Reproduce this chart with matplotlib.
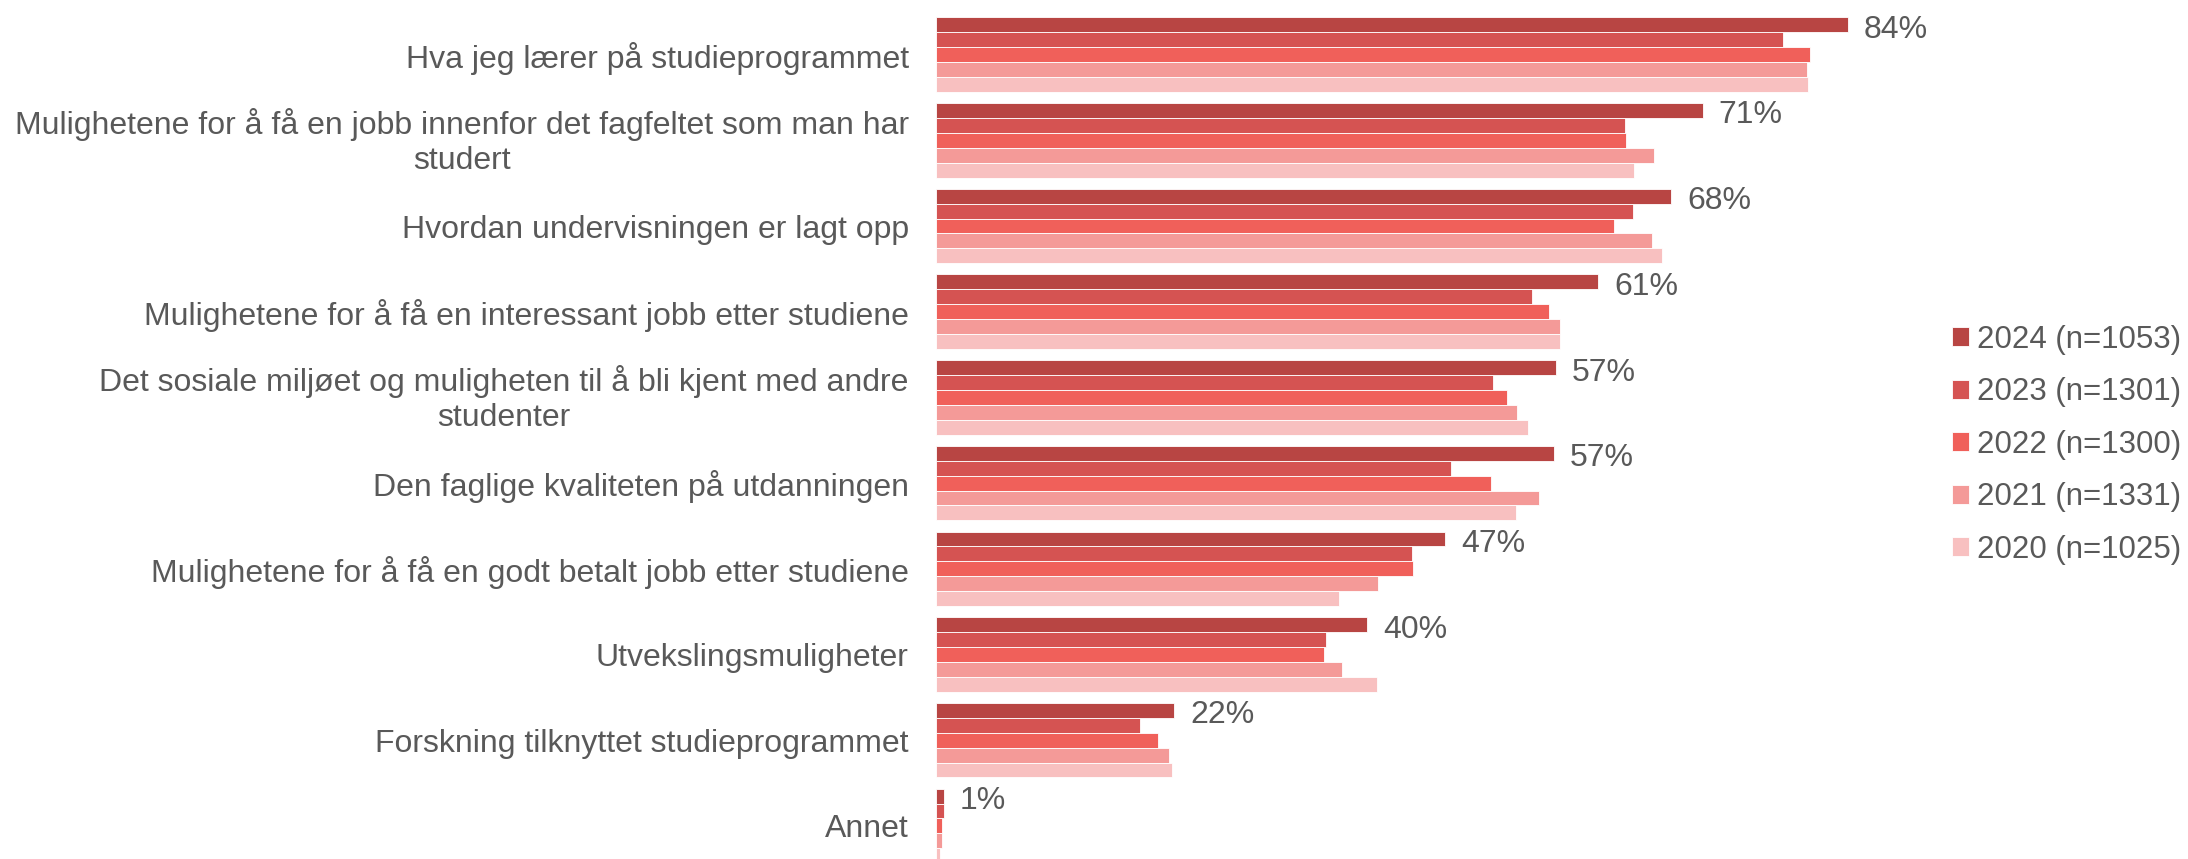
import matplotlib.pyplot as plt
import matplotlib.transforms as mtransforms
import numpy as np

plt.rcParams['font.family'] = ['Liberation Sans', 'DejaVu Sans']

# Categories (top to bottom)
categories = [
    'Hva jeg lærer på studieprogrammet',
    'Mulighetene for å få en jobb innenfor det fagfeltet som man har\nstudert',
    'Hvordan undervisningen er lagt opp',
    'Mulighetene for å få en interessant jobb etter studiene',
    'Det sosiale miljøet og muligheten til å bli kjent med andre\nstudenter',
    'Den faglige kvaliteten på utdanningen',
    'Mulighetene for å få en godt betalt jobb etter studiene',
    'Utvekslingsmuligheter',
    'Forskning tilknyttet studieprogrammet',
    'Annet',
]

series_labels = ['2024 (n=1053)', '2023 (n=1301)', '2022 (n=1300)', '2021 (n=1331)', '2020 (n=1025)']

# Values in percent
v2024 = [84.0, 70.6, 67.7, 61.0, 57.1, 56.9, 46.9, 39.7, 21.9, 0.7]
v2023 = [78.0, 63.4, 64.2, 54.9, 51.3, 47.4, 43.8, 35.9, 18.8, 0.7]
v2022 = [80.5, 63.5, 62.4, 56.4, 52.6, 51.1, 43.9, 35.7, 20.4, 0.5]
v2021 = [80.2, 66.1, 65.9, 57.5, 53.5, 55.5, 40.7, 37.4, 21.4, 0.5]
v2020 = [80.3, 64.3, 66.9, 57.5, 54.5, 53.4, 37.1, 40.6, 21.7, 0.3]

label_texts = ['84%', '71%', '68%', '61%', '57%', '57%', '47%', '40%', '22%', '1%']

colors = ['#B84543', '#D55352', '#F0605A', '#F49A98', '#F8C0C0']
text_color = '#595959'

all_series = [v2024, v2023, v2022, v2021, v2020]

fig = plt.figure(figsize=(21.88, 8.59), dpi=100)
ax = fig.add_axes([0.428, 0.0, 0.924 - 0.428, 0.9863])

y = np.arange(len(categories))
h = 0.174
for j, (vals, col, lab) in enumerate(zip(all_series, colors, series_labels)):
    ax.barh(y + (j - 2) * h, vals, height=h, color=col, label=lab,
            edgecolor='white', linewidth=0.6)

# value labels next to the 2024 bars
for i, (v, t) in enumerate(zip(v2024, label_texts)):
    ax.annotate(t, xy=(v, i - 2 * h), xytext=(16, -5), textcoords='offset pixels',
                va='center', ha='left', fontsize=23, color=text_color)

ax.set_xlim(0, 100)
ax.set_ylim(9.386, -0.5)
ax.set_yticks(y)
ax.set_yticklabels(categories, fontsize=23, color=text_color)
ax.tick_params(axis='y', length=0, pad=20)
for lbl in ax.get_yticklabels():
    lbl.set_multialignment('center')
    lbl.set_linespacing(1.2)
    if '\n' in lbl.get_text():
        # nudge two-line labels up a little
        lbl.set_transform(lbl.get_transform() + mtransforms.Affine2D().translate(0, 4))
ax.set_xticks([])
for s in ax.spines.values():
    s.set_visible(False)

fig.legend(loc='center left', bbox_to_anchor=(0.892, 0.482), frameon=False,
           fontsize=22.5, labelcolor=text_color, handlelength=0.55,
           handleheight=0.55, handletextpad=0.25, labelspacing=0.72,
           borderpad=0, borderaxespad=0)

fig.savefig('out.png', dpi=100)
